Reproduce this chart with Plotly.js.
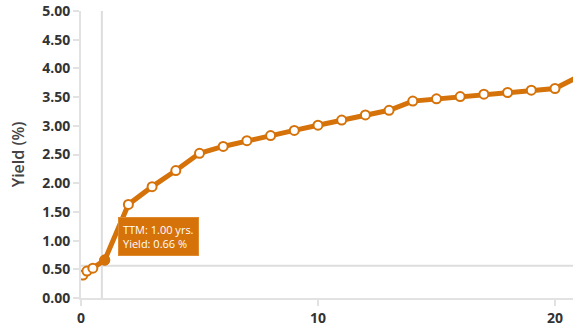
<!DOCTYPE html>
<html>
<head>
<meta charset="utf-8">
<script src="https://cdn.plot.ly/plotly-3.0.1.min.js"></script>
<style>html,body{margin:0;padding:0;background:#fff;}#chart{width:573px;height:329px;}</style>
</head>
<body>
<div id="chart"></div>
<script>
// Time to maturity (years) and yield (%)
const maturities = [0.083, 0.25, 0.5, 1, 2, 3, 4, 5, 6, 7, 8, 9, 10, 11, 12, 13, 14, 15, 16, 17, 18, 19, 20, 21];
const yields = [0.40, 0.47, 0.52, 0.66, 1.63, 1.94, 2.22, 2.52, 2.64, 2.74, 2.83, 2.92, 3.01, 3.10, 3.19, 3.27, 3.43, 3.47, 3.51, 3.55, 3.58, 3.62, 3.65, 3.86];
const highlightX = [1];
const highlightY = [0.66];
const yTicks = [0, 0.5, 1, 1.5, 2, 2.5, 3, 3.5, 4, 4.5, 5];
const yTickText = ["0.00","0.50","1.00","1.50","2.00","2.50","3.00","3.50","4.00","4.50","5.00"];
const xTicks = [0, 10, 20];
const tooltipText = "TTM: 1.00 yrs.<br>Yield: 0.66 %";

const orange = "#d5720a";
const traces = [
  {
    x: maturities, y: yields, type: "scatter", mode: "lines+markers",
    line: {color: orange, width: 5},
    marker: {size: 9, color: "#ffffff", line: {color: orange, width: 2}},
    hoverinfo: "skip"
  },
  {
    x: highlightX, y: highlightY, type: "scatter", mode: "markers",
    marker: {size: 10, color: orange, line: {color: orange, width: 1}},
    hoverinfo: "skip"
  }
];

const layout = {
  width: 573, height: 329,
  margin: {l: 81, r: 0, t: 11, b: 31},
  paper_bgcolor: "#ffffff", plot_bgcolor: "#ffffff",
  showlegend: false,
  font: {family: "Open Sans, sans-serif", color: "#333333"},
  xaxis: {
    range: [0, 20.76], tickvals: xTicks, ticktext: xTicks.map(String),
    showgrid: false, zeroline: false, showline: true, linecolor: "#e2e2e2", linewidth: 2,
    ticks: "outside", ticklen: 6, tickcolor: "#e2e2e2", tickwidth: 2,
    tickfont: {size: 14, color: "#333333", weight: "bold"}
  },
  yaxis: {
    range: [0, 5], tickvals: yTicks, ticktext: yTickText,
    showgrid: false, zeroline: false, showline: true, linecolor: "#e2e2e2", linewidth: 2,
    ticks: "outside", ticklen: 6, tickcolor: "#e2e2e2", tickwidth: 2,
    tickfont: {size: 14, color: "#333333", weight: "bold"},
    title: {text: "Yield (%)", font: {size: 16, color: "#444444", weight: 600}, standoff: 14}
  },
  shapes: [
    {type: "line", xref: "x", yref: "paper", x0: 0.88, x1: 0.88, y0: 0, y1: 1, line: {color: "#dddddd", width: 2}, layer: "below"},
    {type: "line", xref: "paper", yref: "y", x0: 0, x1: 1, y0: 0.56, y1: 0.56, line: {color: "#dddddd", width: 2}, layer: "below"}
  ],
  annotations: [
    {
      x: 1.56, y: 1.41, xref: "x", yref: "y", xanchor: "left", yanchor: "top",
      text: tooltipText, showarrow: false, align: "left",
      font: {size: 11, color: "#ffffff", family: "Open Sans, sans-serif"},
      bgcolor: orange, bordercolor: "#e08a30", borderwidth: 1, borderpad: 4
    }
  ]
};

Plotly.newPlot("chart", traces, layout, {displayModeBar: false, staticPlot: true});
</script>
</body>
</html>
